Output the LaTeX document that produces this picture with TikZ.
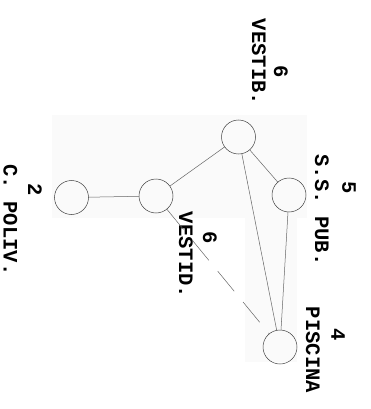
\documentclass[tikz,border=0pt]{standalone}
\usepackage{fontspec}
\setmonofont{Liberation Mono}
\usepackage{tikz}
\usetikzlibrary{positioning}

\begin{document}
\begin{tikzpicture}[x=1pt, y=-1pt,
  room/.style={circle, draw=black!75, line width=0.5pt, minimum size=34pt, inner sep=0pt},
  lbl/.style={rotate=-90, inner sep=0pt, font=\fontsize{20.5}{24}\selectfont\ttfamily\bfseries},
  link/.style={draw=black!60, line width=0.5pt}]
\useasboundingbox (0,0) rectangle (371,409);
% faint scan background
\fill[gray!4] (52,115) rectangle (307,218);
\fill[gray!4] (245,217) rectangle (297,362);
% rooms
\node[room] (vestib) at (238.5,137) {};
\node[room] (sspub) at (289,195) {};
\node[room] (vestid) at (156,196) {};
\node[room] (poliv) at (71.5,197.5) {};
\node[room] (piscina) at (280,347) {};
% labels
\node[lbl] (nvestib) at (281,72) {6};
\node[lbl] (tvestib) at (259,62) {VESTIB.};
\node[lbl] (nsspub) at (349,188) {5};
\node[lbl] (tsspub) at (322,210) {S.S. PUB.};
\node[lbl] (nvestid) at (210,238) {6};
\node[lbl] (tvestid) at (186,255) {VESTID.};
\node[lbl] (npoliv) at (35,190) {2};
\node[lbl] (tpoliv) at (10.5,220) {C. POLIV.};
\node[lbl] (npiscina) at (338,335) {4};
\node[lbl] (tpiscina) at (313,350) {PISCINA};
% links
\draw[link] (vestib) -- (vestid);
\draw[link] (vestib) -- (sspub);
\draw[link] (vestib) -- (piscina);
\draw[link] (sspub) -- (piscina);
\draw[link] (vestid) -- (poliv);
\draw[link, dash pattern=on 26pt off 14pt] (vestid) -- (piscina);
\end{tikzpicture}
\end{document}
